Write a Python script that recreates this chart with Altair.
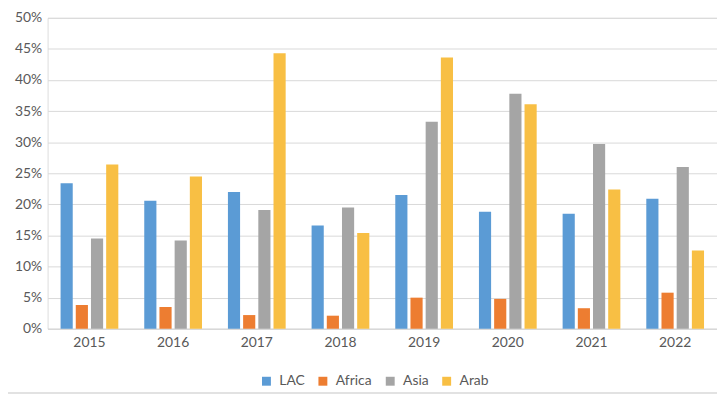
import altair as alt
import pandas as pd

years = ["2015", "2016", "2017", "2018", "2019", "2020", "2021", "2022"]
series = ["LAC", "Africa", "Asia", "Arab"]
lac = [23.4, 20.6, 22.0, 16.6, 21.5, 18.8, 18.5, 20.9]
africa = [3.8, 3.5, 2.2, 2.1, 5.0, 4.8, 3.3, 5.8]
asia = [14.5, 14.2, 19.1, 19.5, 33.3, 37.8, 29.7, 26.0]
arab = [26.4, 24.5, 44.3, 15.4, 43.6, 36.1, 22.4, 12.6]
colors = ["#5B9BD5", "#ED7D31", "#A5A5A5", "#F8BF44"]
y_ticks = [round(i * 0.05, 2) for i in range(11)]

rows = []
for name, vals in zip(series, [lac, africa, asia, arab]):
    for yr, v in zip(years, vals):
        rows.append({"year": yr, "series": name, "value": v / 100.0})
df = pd.DataFrame(rows)

W, H = 676, 314
TXT = "#595959"
FONT = "Lato"

bars = alt.Chart(df).mark_bar(strokeWidth=0).encode(
    x=alt.X(
        "year:N", sort=years, title=None,
        scale=alt.Scale(paddingInner=0.31, paddingOuter=0.155),
        axis=alt.Axis(labelAngle=0, labelPadding=7, ticks=False, domain=True,
                      domainColor="#d9d9d9", grid=False, labelFontSize=14,
                      labelColor=TXT, labelFont=FONT),
    ),
    xOffset=alt.XOffset("series:N", sort=series,
                        scale=alt.Scale(paddingInner=0.2, paddingOuter=0)),
    y=alt.Y(
        "value:Q", title=None,
        scale=alt.Scale(domain=[0, 0.5], nice=False),
        axis=alt.Axis(values=y_ticks, format=".0%", ticks=False, domain=False,
                      labelPadding=6, gridColor="#d9d9d9", labelFontSize=14,
                      labelColor=TXT, labelFont=FONT),
    ),
    color=alt.Color(
        "series:N", sort=series,
        scale=alt.Scale(domain=series, range=colors),
        legend=alt.Legend(title=None, orient="none", direction="horizontal",
                          legendX=214, legendY=360, symbolType="square",
                          symbolSize=81, symbolStrokeWidth=0, labelFontSize=14,
                          labelColor=TXT, labelFont=FONT, labelOffset=6,
                          columnPadding=11, padding=0),
    ),
)

border = alt.Chart(pd.DataFrame({"a": [0]})).mark_rule(color="#d9d9d9", strokeWidth=1.5).encode(
    x=alt.value(-47), x2=alt.value(W + 10), y=alt.value(379)
)

chart = alt.layer(bars, border).properties(
    width=W, height=H,
    autosize=alt.AutoSizeParams(type="none"),
    padding={"left": 40, "top": 8, "right": 0, "bottom": 66},
).configure_view(stroke=None).configure(font=FONT)

chart.save("out.html", embed_options={"renderer": "svg", "actions": False})
